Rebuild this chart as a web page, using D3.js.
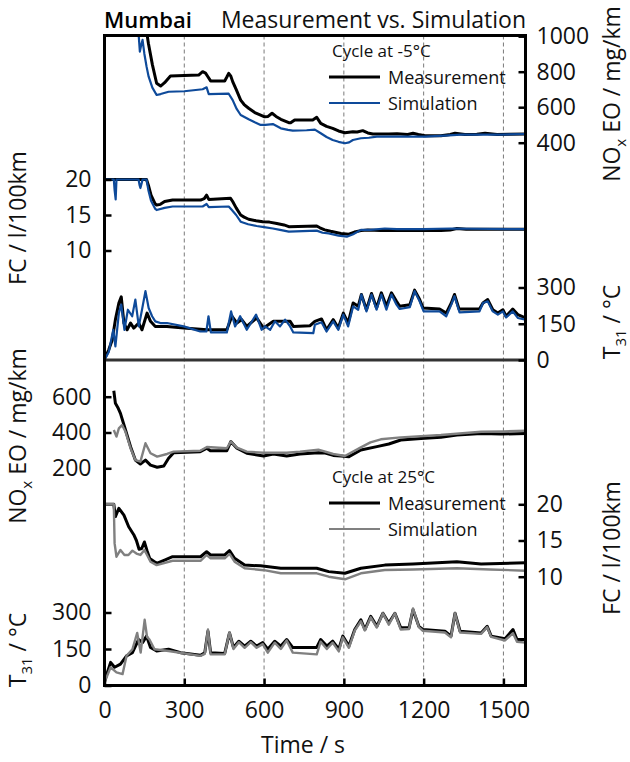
<!DOCTYPE html>
<html>
<head>
<meta charset="utf-8">
<script src="https://cdn.jsdelivr.net/npm/d3@7"></script>
<style>
  body { margin: 0; background: #fff; }
  text { font-family: "Open Sans", "Noto Sans", sans-serif; }
</style>
</head>
<body>
<div id="chart"></div>
<script>
// ---- data: [time in s, value] ----
var timeTicks = [0, 300, 600, 900, 1200, 1500];
var noxTicksCold = [400, 600, 800, 1000];
var fcTicks = [10, 15, 20];
var tTicks = [0, 150, 300];
var noxTicksWarm = [200, 400, 600];

// Cycle at -5°C
var coldNoxMeas = [[155,1060],[165,960],[180,840],[196,735],[211,719],[226,738],[248,776],[300,778],[354,781],[369,800],[380,792],[387,776],[399,748],[452,748],[460,770],[467,791],[475,775],[482,744],[495,700],[512,640],[525,615],[542,594],[565,570],[587,556],[602,546],[615,548],[630,566],[645,548],[663,532],[693,513],[700,512],[715,528],[783,528],[798,543],[813,509],[835,492],[858,481],[880,466],[904,456],[934,462],[950,460],[971,468],[990,455],[1009,449],[1069,449],[1100,450],[1140,446],[1160,453],[1180,446],[1205,439],[1265,439],[1300,446],[1318,453],[1355,446],[1400,448],[1431,453],[1476,446],[1520,448],[1583,449]];
var coldNoxSim = [[120,1100],[128,1017],[133,913],[138,950],[143,979],[150,900],[158,830],[166,772],[180,710],[196,669],[211,674],[241,687],[300,690],[369,701],[384,712],[392,674],[467,676],[482,640],[497,590],[512,556],[542,532],[565,515],[587,500],[605,500],[633,505],[663,481],[690,472],[708,468],[760,470],[791,474],[813,453],[835,432],[858,415],[880,405],[904,397],[920,402],[934,415],[964,425],[994,428],[1024,434],[1114,434],[1205,434],[1280,440],[1340,446],[1491,446],[1583,449]];
var coldFcMeas = [[0,20],[158,20],[165,19.2],[175,17.8],[190,16.6],[196,16.4],[210,16.5],[226,16.9],[256,17.1],[361,17.1],[375,17.3],[384,17.8],[392,17.2],[474,17.35],[482,16.9],[495,16.0],[512,15.0],[525,14.7],[542,14.4],[570,14.2],[595,14.06],[620,14.0],[648,13.8],[675,13.6],[693,13.35],[798,13.45],[810,13.2],[828,12.9],[850,12.7],[889,12.4],[919,12.3],[940,12.6],[964,12.8],[990,12.9],[1039,12.8],[1114,12.8],[1265,12.8],[1300,12.9],[1325,13.1],[1360,13.0],[1583,13.0]];
var coldFcSim = [[0,20],[35,20],[38,18.5],[42,17.2],[45,20],[128,20],[132,19.2],[135,18.8],[140,19.5],[143,20],[158,20],[165,18.5],[175,17.0],[190,15.9],[196,15.7],[226,16.0],[256,16.2],[369,16.2],[384,16.55],[392,16.1],[467,16.2],[479,15.7],[495,15.0],[512,14.06],[540,13.7],[572,13.45],[600,13.3],[633,13.1],[660,12.9],[693,12.65],[798,12.8],[820,12.5],[843,12.4],[880,12.1],[911,11.95],[935,12.3],[964,12.9],[1000,12.9],[1054,13.1],[1100,13.0],[1200,13.0],[1300,13.1],[1583,13.0]];
var coldTMeas = [[0,5],[4,14],[16,42],[29,83],[41,167],[54,236],[63,261],[73,153],[85,125],[98,153],[110,132],[129,153],[141,125],[160,194],[173,160],[191,139],[235,139],[298,132],[385,125],[460,125],[479,181],[498,153],[516,167],[535,139],[572,174],[598,132],[635,160],[698,160],[710,139],[773,142],[791,160],[816,170],[835,125],[860,167],[879,132],[898,194],[916,153],[935,236],[954,222],[966,271],[985,208],[1004,275],[1023,215],[1041,278],[1060,222],[1079,278],[1098,243],[1110,222],[1148,229],[1166,289],[1185,250],[1198,215],[1260,211],[1285,194],[1304,236],[1316,271],[1333,211],[1410,211],[1423,236],[1441,250],[1460,208],[1479,194],[1498,208],[1510,181],[1535,211],[1554,188],[1583,174]];
var coldTSim = [[0,0],[4,8],[16,33],[33,125],[41,56],[54,194],[63,229],[75,125],[88,208],[104,181],[116,250],[129,139],[141,208],[154,285],[166,215],[179,181],[191,160],[210,153],[235,153],[298,139],[360,118],[383,118],[391,181],[400,114],[460,114],[476,201],[491,139],[510,181],[535,125],[570,188],[591,125],[604,139],[623,125],[641,160],[660,139],[679,167],[698,139],[710,114],[785,111],[791,146],[816,156],[835,118],[860,160],[879,125],[898,188],[916,139],[935,222],[954,208],[966,271],[985,201],[1004,271],[1023,208],[1041,271],[1060,208],[1079,271],[1098,229],[1110,211],[1148,219],[1166,285],[1185,243],[1200,201],[1260,201],[1285,181],[1304,229],[1316,264],[1335,197],[1410,201],[1423,236],[1441,243],[1460,201],[1479,188],[1498,201],[1510,176],[1535,201],[1554,174],[1583,167]];

// Cycle at 25°C
var warmNoxMeas = [[35,633],[41,563],[50,540],[60,507],[79,414],[98,321],[116,246],[135,224],[154,246],[173,218],[198,206],[223,213],[241,256],[260,287],[360,293],[385,312],[398,298],[460,298],[475,349],[498,312],[535,284],[598,269],[635,280],[685,269],[735,280],[804,287],[830,285],[860,272],[889,269],[919,265],[964,302],[1024,321],[1069,336],[1114,358],[1190,367],[1265,373],[1325,386],[1416,395],[1491,391],[1583,395]];
var warmNoxSim = [[35,414],[45,377],[54,423],[66,442],[79,404],[98,312],[116,246],[135,237],[154,340],[173,284],[198,265],[235,280],[260,293],[360,298],[385,319],[460,312],[475,349],[498,315],[535,293],[598,287],[685,287],[735,293],[804,304],[860,280],[904,269],[964,317],[1000,345],[1039,362],[1114,373],[1265,386],[1416,404],[1500,406],[1583,410]];
var warmFcMeas = [[0,20],[35,20],[41,18.3],[54,19.45],[73,18.5],[91,16.9],[110,15.8],[120,15.0],[130,13.8],[140,13.9],[150,14.8],[160,13.6],[170,12.5],[196,11.85],[226,12.3],[256,12.76],[361,12.76],[384,13.45],[399,13.0],[452,13.0],[470,13.6],[489,12.54],[527,11.6],[587,11.5],[663,11.16],[798,11.16],[843,10.7],[904,10.47],[964,11.16],[1054,11.6],[1160,11.75],[1325,12.07],[1416,11.75],[1583,11.93]];
var warmFcSim = [[0,20],[35,20],[38,14.6],[45,12.76],[60,13.7],[75,13.0],[90,13.0],[105,13.6],[120,13.2],[135,13.0],[150,13.7],[160,13.0],[173,12.07],[196,11.6],[256,12.2],[361,12.2],[384,13.0],[399,12.54],[452,12.54],[470,13.14],[489,12.07],[527,11.16],[600,10.9],[663,10.47],[798,10.47],[843,10.0],[904,9.64],[964,10.47],[1054,10.93],[1160,11.0],[1325,11.16],[1450,11.0],[1583,10.83]];
var warmTMeas = [[0,15],[3,27],[23,95],[38,75],[60,88],[83,122],[105,135],[128,189],[143,176],[158,203],[173,156],[196,142],[241,149],[286,135],[361,124],[377,135],[389,223],[399,135],[452,132],[470,216],[485,156],[505,182],[527,162],[550,182],[572,162],[595,176],[614,149],[640,182],[663,162],[685,189],[708,156],[798,156],[813,189],[836,162],[858,182],[881,149],[896,203],[919,162],[941,230],[964,270],[979,230],[1001,284],[1024,243],[1047,297],[1069,257],[1092,297],[1114,237],[1145,237],[1160,311],[1182,243],[1197,230],[1280,223],[1303,203],[1318,297],[1337,223],[1416,216],[1439,243],[1454,203],[1506,192],[1536,230],[1551,189],[1583,189]];
var warmTSim = [[0,10],[3,20],[23,75],[45,54],[68,47],[83,122],[105,149],[123,216],[136,135],[151,270],[160,200],[169,189],[188,149],[241,142],[361,122],[377,130],[389,230],[399,128],[452,128],[470,219],[485,150],[505,178],[527,155],[550,178],[572,155],[595,170],[614,135],[640,176],[663,150],[685,185],[708,135],[798,128],[813,180],[836,150],[858,176],[881,140],[896,198],[919,155],[941,226],[964,264],[979,226],[1001,280],[1024,238],[1047,297],[1069,250],[1092,297],[1114,230],[1145,232],[1160,317],[1182,240],[1197,225],[1280,218],[1303,198],[1318,297],[1337,218],[1416,212],[1439,240],[1454,200],[1506,185],[1536,215],[1551,180],[1583,176]];

// ---- layout ----
var svgWidth = 630, svgHeight = 762;
var margin = { top: 35.5, left: 104.5 };
var chartWidth = 421, chartHeight = 650, splitY = 324.5;

var blue = "#0e4a9a", gray = "#808080";

var svg = d3.select("#chart").append("svg")
    .attr("width", svgWidth)
    .attr("height", svgHeight);

var chart = svg.append("g")
    .attr("transform", `translate(${margin.left}, ${margin.top})`);

var x = d3.scaleLinear().domain([0, 1583]).range([0, chartWidth]);

// each sub-panel gets its own y scale
var yNoxCold = d3.scaleLinear().domain([400, 1000]).range([107.2, 0.7]);
var yFcCold = d3.scaleLinear().domain([10, 20]).range([215, 144]);
var yTCold = d3.scaleLinear().domain([0, 300]).range([splitY, 252]);
var yNoxWarm = d3.scaleLinear().domain([200, 600]).range([432.8, 361.2]);
var yFcWarm = d3.scaleLinear().domain([10, 20]).range([541.2, 468.8]);
var yTWarm = d3.scaleLinear().domain([0, 300]).range([chartHeight, 577]);

var defs = svg.append("defs");
defs.append("clipPath").attr("id", "clipCold")
    .append("rect").attr("x", 0).attr("y", 0).attr("width", chartWidth).attr("height", splitY);
defs.append("clipPath").attr("id", "clipWarm")
    .append("rect").attr("x", 0).attr("y", splitY).attr("width", chartWidth).attr("height", chartHeight - splitY);

// dashed vertical grid
chart.selectAll(".grid")
    .data(timeTicks.slice(1))
    .enter()
    .append("line")
    .attr("x1", d => x(d)).attr("x2", d => x(d))
    .attr("y1", 0).attr("y2", chartHeight)
    .attr("stroke", "#7a7a7a")
    .attr("stroke-width", 1)
    .attr("stroke-dasharray", "4,3");

function drawLine(data, yScale, color, width, clip) {
    var line = d3.line().x(d => x(d[0])).y(d => yScale(d[1]));
    chart.append("path")
        .datum(data)
        .attr("clip-path", `url(#${clip})`)
        .attr("fill", "none")
        .attr("stroke", color)
        .attr("stroke-width", width)
        .attr("stroke-linejoin", "round")
        .attr("d", line);
}

drawLine(coldNoxMeas, yNoxCold, "#000", 3, "clipCold");
drawLine(coldNoxSim, yNoxCold, blue, 2.2, "clipCold");
drawLine(coldFcMeas, yFcCold, "#000", 3, "clipCold");
drawLine(coldFcSim, yFcCold, blue, 2.2, "clipCold");
drawLine(coldTMeas, yTCold, "#000", 3, "clipCold");
drawLine(coldTSim, yTCold, blue, 2.2, "clipCold");

drawLine(warmNoxMeas, yNoxWarm, "#000", 3, "clipWarm");
drawLine(warmNoxSim, yNoxWarm, gray, 2.4, "clipWarm");
drawLine(warmFcMeas, yFcWarm, "#000", 3, "clipWarm");
drawLine(warmFcSim, yFcWarm, gray, 2.4, "clipWarm");
drawLine(warmTMeas, yTWarm, "#000", 3, "clipWarm");
drawLine(warmTSim, yTWarm, gray, 2.4, "clipWarm");

// divider between the two cycles
chart.append("line")
    .attr("x1", 0).attr("x2", chartWidth)
    .attr("y1", splitY).attr("y2", splitY)
    .attr("stroke", "#333").attr("stroke-width", 3);

// frame
chart.append("rect")
    .attr("x", 0).attr("y", 0)
    .attr("width", chartWidth).attr("height", chartHeight)
    .attr("fill", "none")
    .attr("stroke", "#000")
    .attr("stroke-width", 3);

function styleAxis(g) {
    g.select(".domain").remove();
    g.selectAll(".tick line").attr("stroke", "#000").attr("stroke-width", 2.5);
    g.selectAll(".tick text")
        .attr("fill", "#111")
        .attr("font-size", "23px")
        .attr("font-family", "'Open Sans', sans-serif");
}

var fmt = d3.format("d");

function leftAxis(scale, ticks) {
    chart.append("g")
        .call(d3.axisLeft(scale).tickValues(ticks).tickFormat(fmt).tickSizeInner(-7).tickSizeOuter(0).tickPadding(13))
        .call(styleAxis);
}
function rightAxis(scale, ticks) {
    chart.append("g")
        .attr("transform", `translate(${chartWidth}, 0)`)
        .call(d3.axisRight(scale).tickValues(ticks).tickFormat(fmt).tickSizeInner(-7).tickSizeOuter(0).tickPadding(11))
        .call(styleAxis);
}

rightAxis(yNoxCold, noxTicksCold);
leftAxis(yFcCold, fcTicks);
rightAxis(yTCold, tTicks);
leftAxis(yNoxWarm, noxTicksWarm);
rightAxis(yFcWarm, fcTicks);
leftAxis(yTWarm, tTicks);

chart.append("g")
    .attr("transform", `translate(0, ${chartHeight})`)
    .call(d3.axisBottom(x).tickValues(timeTicks).tickFormat(fmt).tickSizeInner(-7).tickSizeOuter(0).tickPadding(16))
    .call(styleAxis);

// axis titles (rotated); parts = [text, isSubscript, dy]
function axisTitle(px, py, parts) {
    var t = svg.append("text")
        .attr("transform", `translate(${px}, ${py}) rotate(-90)`)
        .attr("text-anchor", "middle")
        .attr("font-size", "23px")
        .attr("fill", "#111");
    parts.forEach(function (p) {
        if (p[1]) {
            t.append("tspan").attr("font-size", "15px").attr("dy", "6").text(p[0]);
        } else {
            t.append("tspan").attr("dy", p[2] || 0).text(p[0]);
        }
    });
}

axisTitle(620, 94, [["NO"], ["x", true], [" EO / mg/km", false, -6]]);
axisTitle(26, 218, [["FC / l/100km"]]);
axisTitle(620, 322, [["T"], ["31", true], [" / °C", false, -6]]);
axisTitle(26, 436, [["NO"], ["x", true], [" EO / mg/km", false, -6]]);
axisTitle(620, 548, [["FC / l/100km"]]);
axisTitle(26, 650, [["T"], ["31", true], [" / °C", false, -6]]);

svg.append("text")
    .attr("x", 303).attr("y", 753)
    .attr("text-anchor", "middle")
    .attr("font-size", "23px")
    .attr("fill", "#111")
    .text("Time / s");

// title
svg.append("text")
    .attr("x", 104).attr("y", 28)
    .attr("font-size", "22px")
    .attr("font-weight", 600)
    .attr("fill", "#000")
    .text("Mumbai");
svg.append("text")
    .attr("x", 526).attr("y", 28)
    .attr("text-anchor", "end")
    .attr("font-size", "23px")
    .attr("fill", "#111")
    .text("Measurement vs. Simulation");

// legends
function legend(ly, title, simColor) {
    var g = svg.append("g");
    g.append("text")
        .attr("x", 332).attr("y", ly)
        .attr("font-size", "17px").attr("fill", "#111")
        .text(title);
    var items = [["Measurement", "#000", 3], ["Simulation", simColor, 2.2]];
    items.forEach(function (it, i) {
        var yy = ly + 20 + i * 26;
        g.append("line")
            .attr("x1", 329).attr("x2", 380)
            .attr("y1", yy).attr("y2", yy)
            .attr("stroke", it[1]).attr("stroke-width", it[2]);
        g.append("text")
            .attr("x", 388).attr("y", yy + 6.5)
            .attr("font-size", "18px").attr("fill", "#111")
            .text(it[0]);
    });
}
legend(57, "Cycle at -5°C", blue);
legend(483, "Cycle at 25°C", gray);
</script>
</body>
</html>
